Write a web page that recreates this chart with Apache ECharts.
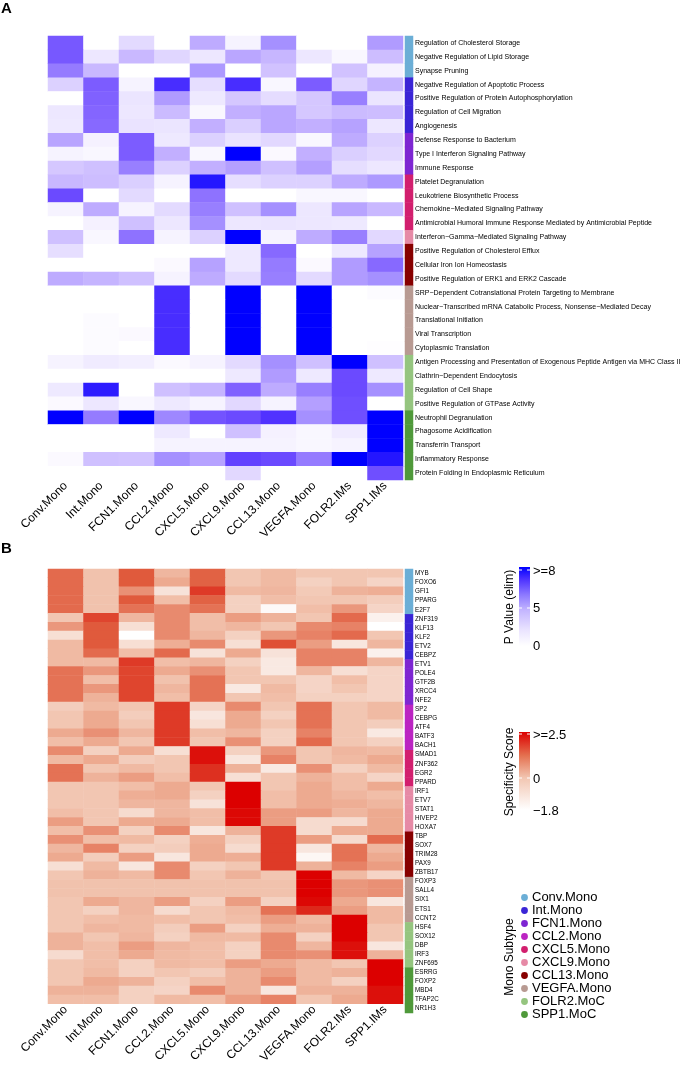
<!DOCTYPE html>
<html>
<head>
<meta charset="utf-8">
<script src="https://cdn.jsdelivr.net/npm/echarts@6/dist/echarts.min.js"></script>
<style>html,body{margin:0;padding:0;background:#fff;}#c{width:695px;height:1066px;}</style>
</head>
<body>
<div id="c"></div>
<script>
const subtypes = ['Conv.Mono','Int.Mono','FCN1.Mono','CCL2.Mono','CXCL5.Mono','CXCL9.Mono','CCL13.Mono','VEGFA.Mono','FOLR2.IMs','SPP1.IMs'];
const legendLabels = ['Conv.Mono','Int.Mono','FCN1.Mono','CCL2.Mono','CXCL5.Mono','CXCL9.Mono','CCL13.Mono','VEGFA.Mono','FOLR2.MoC','SPP1.MoC'];
const groupColors = ['#6BAED6','#3A25D6','#7E26D2','#BB24C2','#D21F6E','#E68AA6','#870000','#B89A92','#95C57F','#4F993A'];

const pathways = [
 'Regulation of Cholesterol Storage','Negative Regulation of Lipid Storage','Synapse Pruning',
 'Negative Regulation of Apoptotic Process','Positive Regulation of Protein Autophosphorylation','Regulation of Cell Migration','Angiogenesis',
 'Defense Response to Bacterium','Type I Interferon Signaling Pathway','Immune Response',
 'Platelet Degranulation','Leukotriene Biosynthetic Process','Chemokine\u2212Mediated Signaling Pathway','Antimicrobial Humoral Immune Response Mediated by Antimicrobial Peptide',
 'Interferon\u2212Gamma\u2212Mediated Signaling Pathway',
 'Positive Regulation of Cholesterol Efflux','Cellular Iron Ion Homeostasis','Positive Regulation of ERK1 and ERK2 Cascade',
 'SRP\u2212Dependent Cotranslational Protein Targeting to Membrane','Nuclear\u2212Transcribed mRNA Catabolic Process, Nonsense\u2212Mediated Decay','Translational Initiation','Viral Transcription','Cytoplasmic Translation',
 'Antigen Processing and Presentation of Exogenous Peptide Antigen via MHC Class II','Clathrin\u2212Dependent Endocytosis','Regulation of Cell Shape','Positive Regulation of GTPase Activity',
 'Neutrophil Degranulation','Phagosome Acidification','Transferrin Transport','Inflammatory Response','Protein Folding in Endoplasmic Reticulum'
];
const pathwayGroup = [0,0,0,1,1,1,1,2,2,2,4,4,4,4,5,6,6,6,7,7,7,7,7,8,8,8,8,9,9,9,9,9];
const pValues = [
 [6.3,0,1.8,0,3.8,0.6,5,0,0,4.5],
 [6.3,1.2,3.2,2,1.2,4,3.3,1.2,0.4,3],
 [5.5,3.2,0,0,4.6,0,2.8,0,2.8,0.7],
 [2.2,6.2,0.6,7.2,1.6,7.2,0.4,6.2,2,3.4],
 [0,6.1,1.3,4.5,1.1,2.6,1.7,2.6,5.4,1.3],
 [1.2,6,1.2,3.1,0.4,3.6,4,2.6,3.1,3],
 [1.1,5.9,1.4,1.3,3.6,2.3,4,3.6,4.2,1.2],
 [4.1,0.7,6.2,1.1,2.2,1.4,1.9,0.4,3.8,2.2],
 [0.6,0.4,6.2,3.6,0.4,8,0.3,3.6,2.3,1.9],
 [2.6,2.9,5.4,2.2,3.6,4.3,2.9,4.3,1.6,1.2],
 [3.2,3,2.3,0.6,7.6,1.6,2.2,2.2,3.8,4.6],
 [6.6,0,1.8,0,5.7,0,0,0.4,0.4,0],
 [0.6,3.8,0.6,1.8,5.4,2.9,5,1.2,4.1,3.2],
 [0,0.7,2.9,1.2,5,1.2,1.3,1.2,1.1,0],
 [2.9,0.4,5.7,0.6,2.2,8,0.6,3.8,5.4,1.9],
 [1.6,0,0,0,0,1.1,5.9,0,1.1,4.2],
 [0,0,0,0.3,4.2,1.1,5.5,0.3,4.5,5.9],
 [3.8,3.4,2.9,0.6,3.8,1.8,5.4,1.8,4.5,5],
 [0,0,0,7.2,0,8,0,8,0,0.2],
 [0,0,0,7.2,0,8,0,8,0,0],
 [0,0.2,0,7.2,0,8,0,8,0,0],
 [0,0.2,0.3,7.2,0,8,0,8,0,0],
 [0,0.2,0,7.2,0,8,0,8,0,0.1],
 [0.6,1,0.8,0.3,0.6,1.8,5,2.9,8,2.9],
 [0,0,0,0,0,1.1,4.5,1.1,6.6,1.1],
 [1.1,7.5,0,2.9,3.4,6.1,3.8,5.4,6.6,5],
 [0.3,1.2,0.4,1.1,0.6,1.9,0.6,4.3,6.5,0],
 [8,5.5,8,5.2,6.4,6.6,7.1,5,6.5,8],
 [0,0,0,1.1,0,2.9,0.7,0.4,1,8],
 [0,0,0,0.6,0.6,0.6,0.6,0.4,0.6,8],
 [0.3,2.9,2.8,5,4.2,6.8,6.6,5.5,8,7.6],
 [0,0,0,0,0,1.9,0,0,0,6.5]
];

const tfs = ['MYB','FOXO6','GFI1','PPARG','E2F7','ZNF319','KLF13','KLF2','ETV2','CEBPZ','ETV1','POLE4','GTF2B','XRCC4','NFE2',
 'SP2','CEBPG','ATF4','BATF3','BACH1','SMAD1','ZNF362','EGR2','PPARD','IRF1','ETV7','STAT1','HIVEP2','HOXA7',
 'TBP','SOX7','TRIM28','PAX9','ZBTB17','FOXP3','SALL4','SIX1','ETS1','CCNT2','HSF4','SOX12','DBP','IRF3','ZNF695',
 'ESRRG','FOXP2','MBD4','TFAP2C','NR1H3'];
const tfGroup = [0,0,0,0,0,1,1,1,1,1,2,2,2,2,2,3,3,3,3,3,4,4,4,4,5,5,5,5,5,6,6,6,6,6,7,7,7,7,7,8,8,8,8,8,9,9,9,9,9];
const specScores = [
 [1.6,0.1,1.8,0.4,1.7,0,0.3,0,0,0],
 [1.6,0.1,1.8,0.7,1.7,0,0.3,-0.3,0,-0.4],
 [1.6,0.1,1.1,-0.8,2.1,0.3,0.4,-0.1,0.5,0.6],
 [1.6,0.1,1.8,0.2,1.7,-0.3,0.2,0,0,-0.2],
 [1.6,0.1,1.5,1.2,1.5,-0.3,-1.6,0.2,1.0,-0.4],
 [0,2.0,0.4,1.2,0.2,0.9,0.5,0,1.6,-1.3],
 [1.0,1.8,-0.7,1.2,0.2,0.4,0,1.2,1.3,-1.8],
 [-0.7,1.8,-1.8,1.2,0.4,-0.3,1.0,1.3,1.6,0],
 [0.3,1.8,-0.7,0.6,1.2,-0.7,1.9,0.9,-0.9,0.4],
 [0.3,1.6,0.2,1.6,-0.8,0.7,-0.8,1.3,1.3,-1.3],
 [0.3,0.3,2.1,0.2,0.4,-0.3,-1.0,1.3,1.3,0.4],
 [1.5,1.0,2.0,0.7,1.1,0,-1.0,0.4,-0.7,-0.4],
 [1.5,0.2,2.0,0.1,1.5,0,0,-0.4,0.2,-0.4],
 [1.5,1.0,2.0,0.4,1.5,-1.0,0.3,-0.4,0,-0.4],
 [1.5,0.5,2.0,0.2,1.5,0,0.2,-0.3,-0.3,-0.4],
 [-0.2,0.3,0,2.1,-0.4,1.2,0,1.5,0,0.3],
 [0,0.7,-0.2,2.1,-0.9,0.7,-0.3,1.5,0,0.3],
 [0,0.7,0,2.1,-0.7,0.7,0,1.5,0,-0.2],
 [0.7,1.1,0.4,2.1,0.2,0.4,-0.3,1.3,0,-1.0],
 [0.2,0.7,0,2.1,0,1.1,-0.3,1.6,0,-0.3],
 [1.2,-0.3,0.7,-0.7,2.4,-0.3,1.0,0,0.4,0.3],
 [0.3,0.7,-0.2,0,2.4,-0.9,1.3,0,0.3,0.7],
 [1.5,0,0.3,0,2.2,0.5,-1.0,1.1,-0.3,0.3],
 [1.5,0.5,0.9,0.2,2.2,-0.7,0,0.5,0.2,-0.4],
 [0,0,0.2,0.7,0,2.5,0,0.7,0.2,0.7],
 [0,0,0.6,0.7,-0.3,2.5,0.2,0.7,0.4,0.2],
 [0,0,0.4,0.4,-0.8,2.5,0.2,0.7,0.6,0.4],
 [0.2,0,-0.6,0.4,0.2,2.45,0.9,0.9,0.4,0.7],
 [0.9,0,0.7,0.7,0.2,2.45,0.9,-0.6,-0.6,0.7],
 [0.2,1.1,-0.3,1.2,-0.9,0.5,2.1,-0.6,0.7,0.7],
 [1.1,0.2,0.3,-0.3,0.6,-0.3,2.1,0.9,-0.6,1.6],
 [0.4,1.3,-0.3,-0.2,0.7,-0.6,2.1,-0.9,1.5,0.4],
 [0.7,-0.2,0.9,-0.9,0.7,0.6,2.1,-1.5,1.5,0.7],
 [-0.7,0.3,-0.9,1.2,-0.3,0,2.1,0.5,1.3,0.9],
 [0,0.5,0.3,1.2,0,0.5,0,2.5,0.3,-0.4],
 [0.1,0.1,0.1,0.1,0.1,0.1,0.1,2.5,1.0,1.1],
 [0.1,0.1,0.1,0.1,0.1,0.1,0.1,2.5,1.0,1.1],
 [0,0.7,0.4,0.9,-0.3,0.9,-0.3,2.45,0.7,-0.9],
 [0,-0.3,0.4,-0.6,0,0.3,1.5,2.25,0.9,0.3],
 [0,0.2,0.3,0.2,0,0.2,0.9,0.3,2.5,0.3],
 [0,0.4,0.3,-0.2,0.9,-0.3,0.6,0.5,2.5,0],
 [0.5,0,0.4,-0.3,0.3,0.3,1.2,-0.3,2.5,0],
 [0.5,0.2,0.9,0.4,0.2,-0.3,1.2,0.4,2.4,-0.9],
 [-0.6,0.2,0.7,0.3,0.2,-0.3,1.2,1.1,2.4,0.5],
 [0,0.2,-0.3,0.3,0.2,0.9,0.7,0.3,0,2.5],
 [0,0.3,-0.3,0,-0.2,0.5,0.9,0.3,0.5,2.5],
 [0,0.7,0.5,-0.3,0.2,0.5,1.2,0.3,-0.3,2.5],
 [0.5,0.5,-0.3,-0.4,1.2,0.5,-0.9,0.5,0.5,2.4],
 [0.2,0.2,-0.3,0.3,0.2,0.9,1.3,0,0.7,2.4]
];

// colour scales
const blueStops = ['#FFFFFF','#F0EBFF','#E0D6FF','#CDBDFF','#BAA6FF','#A590FF','#8465FF','#5A38FF','#0000FF'];
const redAnchors = [[-1.8,'#FFFFFF'],[-0.9,'#F8E6DE'],[0,'#F2C6B2'],[0.7,'#EDAA90'],[1.2,'#E88A6E'],[1.8,'#E05A3C'],[2.2,'#DD3020'],[2.5,'#DC0000']];
function hex2rgb(h){return [parseInt(h.slice(1,3),16),parseInt(h.slice(3,5),16),parseInt(h.slice(5,7),16)];}
function rgb2hex(c){return '#'+c.map(v=>Math.round(v).toString(16).padStart(2,'0')).join('');}
function rampAt(anchors,v){
  for(let i=0;i<anchors.length-1;i++){
    const a=anchors[i],b=anchors[i+1];
    if(v<=b[0]+1e-9){const t=(v-a[0])/(b[0]-a[0]);const ca=hex2rgb(a[1]),cb=hex2rgb(b[1]);return rgb2hex(ca.map((x,k)=>x+(cb[k]-x)*Math.max(0,Math.min(1,t))));}
  }
  return anchors[anchors.length-1][1];
}
const redStops=[];
for(let k=0;k<=43;k++){redStops.push(rampAt(redAnchors,-1.8+k*0.1));}

const dataA=[]; pValues.forEach((row,i)=>row.forEach((v,j)=>dataA.push([j,i,v])));
const dataB=[]; specScores.forEach((row,i)=>row.forEach((v,j)=>dataB.push([j,i,v])));
const annA=pathwayGroup.map((g,i)=>({value:[0,i,g],itemStyle:{color:groupColors[g]}}));
const annB=tfGroup.map((g,i)=>({value:[0,i,g],itemStyle:{color:groupColors[g]}}));

const FONT='"Liberation Sans", Arial, Helvetica, sans-serif';
const chart=echarts.init(document.getElementById('c'),null,{renderer:'canvas'});

const xLab={rotate:45,interval:0,fontSize:12,color:'#000',margin:4,fontFamily:FONT};
const hidden={show:false};
function xCat(grid,showLab){return {type:'category',gridIndex:grid,data:showLab?subtypes:['a'],axisLine:hidden,axisTick:hidden,axisLabel:showLab?xLab:hidden,splitLine:hidden};}
function yCat(grid,cats,labels,fs){return {type:'category',gridIndex:grid,data:cats,inverse:true,position:'right',axisLine:hidden,axisTick:hidden,
  axisLabel:labels?{show:true,fontSize:fs,color:'#000',margin:2,interval:0,fontFamily:FONT}:hidden,splitLine:hidden};}

const graphics=[
 {type:'text',left:1,top:1,style:{text:'A',font:'bold 15px '+FONT,fill:'#000'}},
 {type:'text',left:1,top:541,style:{text:'B',font:'bold 15px '+FONT,fill:'#000'}},
 // P value legend
 {type:'rect',shape:{x:519,y:567,width:11,height:79},style:{fill:new echarts.graphic.LinearGradient(0,0,0,1,[
   {offset:0,color:'#0000FF'},{offset:0.15,color:'#4B30FF'},{offset:0.35,color:'#8C78FF'},{offset:0.55,color:'#C4B6FF'},{offset:0.8,color:'#EAE4FF'},{offset:1,color:'#FFFFFF'}])}},
 {type:'line',shape:{x1:519,y1:608,x2:522,y2:608},style:{stroke:'#fff',lineWidth:1}},
 {type:'line',shape:{x1:527,y1:608,x2:530,y2:608},style:{stroke:'#fff',lineWidth:1}},
 {type:'line',shape:{x1:519,y1:570,x2:522,y2:570},style:{stroke:'#fff',lineWidth:1}},
 {type:'line',shape:{x1:527,y1:570,x2:530,y2:570},style:{stroke:'#fff',lineWidth:1}},
 {type:'text',x:533,y:571,style:{text:'>=8',font:'13px '+FONT,fill:'#000',verticalAlign:'middle'}},
 {type:'text',x:533,y:608,style:{text:'5',font:'13px '+FONT,fill:'#000',verticalAlign:'middle'}},
 {type:'text',x:533,y:646,style:{text:'0',font:'13px '+FONT,fill:'#000',verticalAlign:'middle'}},
 {type:'text',x:510,y:607,rotation:Math.PI/2,style:{text:'P Value (elim)',font:'12px '+FONT,fill:'#000',align:'center',verticalAlign:'middle'}},
 // specificity legend
 {type:'rect',shape:{x:519,y:732,width:11,height:78},style:{fill:new echarts.graphic.LinearGradient(0,0,0,1,[
   {offset:0,color:'#DC0000'},{offset:0.3,color:'#E4704F'},{offset:0.59,color:'#F2C6B2'},{offset:1,color:'#FFFFFF'}])}},
 {type:'line',shape:{x1:519,y1:778,x2:522,y2:778},style:{stroke:'#fff',lineWidth:1}},
 {type:'line',shape:{x1:527,y1:778,x2:530,y2:778},style:{stroke:'#fff',lineWidth:1}},
 {type:'line',shape:{x1:519,y1:734,x2:522,y2:734},style:{stroke:'#fff',lineWidth:1}},
 {type:'line',shape:{x1:527,y1:734,x2:530,y2:734},style:{stroke:'#fff',lineWidth:1}},
 {type:'text',x:533,y:735,style:{text:'>=2.5',font:'13px '+FONT,fill:'#000',verticalAlign:'middle'}},
 {type:'text',x:533,y:779,style:{text:'0',font:'13px '+FONT,fill:'#000',verticalAlign:'middle'}},
 {type:'text',x:533,y:811,style:{text:'\u22121.8',font:'13px '+FONT,fill:'#000',verticalAlign:'middle'}},
 {type:'text',x:510,y:772,rotation:Math.PI/2,style:{text:'Specificity Score',font:'12px '+FONT,fill:'#000',align:'center',verticalAlign:'middle'}},
 {type:'text',x:510,y:957,rotation:Math.PI/2,style:{text:'Mono Subtype',font:'12px '+FONT,fill:'#000',align:'center',verticalAlign:'middle'}}
];
legendLabels.forEach((lab,i)=>{
  const y=897.5+i*13;
  graphics.push({type:'circle',shape:{cx:524.5,cy:y,r:3.4},style:{fill:groupColors[i]}});
  graphics.push({type:'text',x:532,y:y,style:{text:lab,font:'13px '+FONT,fill:'#000',verticalAlign:'middle'}});
});

chart.setOption({
  animation:false,
  backgroundColor:'#fff',
  textStyle:{fontFamily:FONT},
  grid:[
    {left:48,top:36,width:355,height:444},
    {left:405,top:36,width:8,height:444},
    {left:48,top:569,width:355,height:444},
    {left:405,top:569,width:8,height:444}
  ],
  xAxis:[xCat(0,true),xCat(1,false),xCat(2,true),xCat(3,false)],
  yAxis:[yCat(0,pathways,false),yCat(1,pathways,true,7),yCat(2,tfs,false),yCat(3,tfs,true,6.3)],
  visualMap:[
    {type:'continuous',min:0,max:8,seriesIndex:0,show:false,inRange:{color:blueStops}},
    {type:'continuous',min:-1.8,max:2.5,seriesIndex:2,show:false,inRange:{color:redStops}}
  ],
  series:[
    {type:'heatmap',xAxisIndex:0,yAxisIndex:0,data:dataA,silent:true,itemStyle:{borderWidth:0}},
    {type:'heatmap',xAxisIndex:1,yAxisIndex:1,data:annA,silent:true},
    {type:'heatmap',xAxisIndex:2,yAxisIndex:2,data:dataB,silent:true,itemStyle:{borderWidth:0}},
    {type:'heatmap',xAxisIndex:3,yAxisIndex:3,data:annB,silent:true}
  ],
  graphic:graphics
});
</script>
</body>
</html>
